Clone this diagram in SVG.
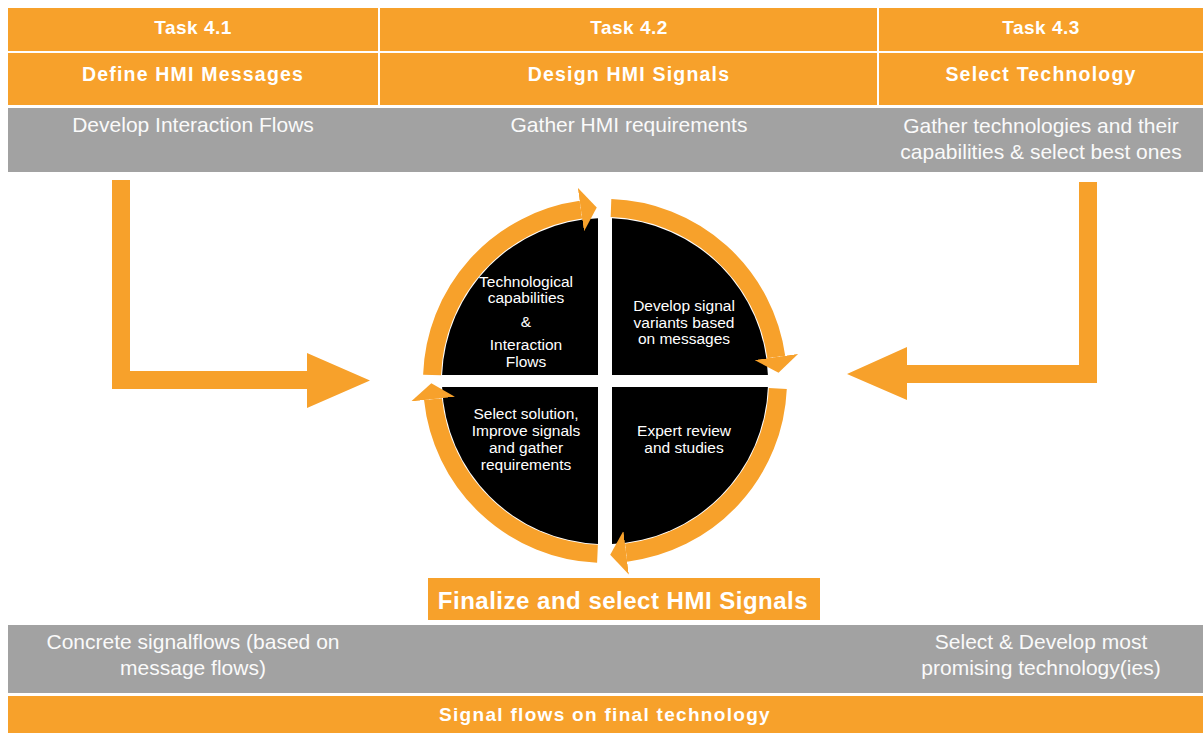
<svg xmlns="http://www.w3.org/2000/svg" width="1203" height="733" viewBox="0 0 1203 733">
  <style>
    .orange { fill: #F7A12B; }
    .gray { fill: #A2A2A2; }
    .black { fill: #000000; }
    .sep { stroke: #FFFFFF; stroke-width: 2; }
    .t-task { font-family: "Liberation Sans", Arial, sans-serif; font-weight: bold; font-size: 19px; fill: #FFFFFF; text-anchor: middle; letter-spacing: 0.5px; }
    .t-title { font-family: "Liberation Sans", Arial, sans-serif; font-weight: bold; font-size: 19.5px; fill: #FFFFFF; text-anchor: middle; letter-spacing: 1.2px; }
    .t-band { font-family: "Liberation Sans", Arial, sans-serif; font-size: 21px; fill: #FAFAFA; text-anchor: middle; }
    .t-quad { font-family: "Liberation Sans", Arial, sans-serif; font-size: 15.5px; fill: #FFFFFF; text-anchor: middle; }
    .t-final { font-family: "Liberation Sans", Arial, sans-serif; font-weight: bold; font-size: 24px; fill: #FFFFFF; text-anchor: middle; letter-spacing: 0.5px; }
    .t-foot { font-family: "Liberation Sans", Arial, sans-serif; font-weight: bold; font-size: 19px; fill: #FFFFFF; text-anchor: middle; letter-spacing: 1.3px; }
    .ring { fill: none; stroke: #F7A12B; stroke-width: 18; stroke-linecap: butt; }
  </style>
  <defs>
    <marker id="ringHead" markerUnits="userSpaceOnUse" markerWidth="20" markerHeight="44" refX="0" refY="22" orient="auto">
      <path d="M0,0 L16,22 L0,44 Z" fill="#F7A12B"/>
    </marker>
  </defs>

  <rect x="0" y="0" width="1203" height="733" fill="#FFFFFF"/>

  <!-- Task header cells -->
  <g id="task-4-1">
    <rect class="orange" x="8" y="8" width="371" height="43"/>
    <rect class="orange" x="8" y="53" width="371" height="52"/>
    <text class="t-task" x="193" y="34">Task 4.1</text>
    <text class="t-title" x="193" y="81">Define HMI Messages</text>
  </g>
  <g id="task-4-2">
    <rect class="orange" x="380" y="8" width="498" height="43"/>
    <rect class="orange" x="380" y="53" width="498" height="52"/>
    <text class="t-task" x="629" y="34">Task 4.2</text>
    <text class="t-title" x="629" y="81">Design HMI Signals</text>
  </g>
  <g id="task-4-3">
    <rect class="orange" x="879" y="8" width="324" height="43"/>
    <rect class="orange" x="879" y="53" width="324" height="52"/>
    <text class="t-task" x="1041" y="34">Task 4.3</text>
    <text class="t-title" x="1041" y="81">Select Technology</text>
  </g>

  <!-- Activity band -->
  <g id="activities">
    <rect class="gray" x="8" y="108" width="1195" height="64"/>
    <text class="t-band" x="193" y="132">Develop Interaction Flows</text>
    <text class="t-band" x="629" y="132">Gather HMI requirements</text>
    <text class="t-band" x="1041" y="133">Gather technologies and their</text>
    <text class="t-band" x="1041" y="159">capabilities &amp; select best ones</text>
  </g>

  <!-- Iteration cycle quadrants -->
  <g id="quad-tech">
    <path class="black" d="M598,375 L598,218.2 A163,163 0 0 0 442.1,375 Z"/>
    <text class="t-quad" x="526" y="287">Technological</text>
    <text class="t-quad" x="526" y="303">capabilities</text>
    <text class="t-quad" x="526" y="327">&amp;</text>
    <text class="t-quad" x="526" y="350">Interaction</text>
    <text class="t-quad" x="526" y="367">Flows</text>
  </g>
  <g id="quad-variants">
    <path class="black" d="M612,375 L767.9,375 A163,163 0 0 0 612,218.2 Z"/>
    <text class="t-quad" x="684" y="311">Develop signal</text>
    <text class="t-quad" x="684" y="328">variants based</text>
    <text class="t-quad" x="684" y="344">on messages</text>
  </g>
  <g id="quad-review">
    <path class="black" d="M612,387 L612,543.9 A163,163 0 0 0 767.9,387 Z"/>
    <text class="t-quad" x="684" y="436">Expert review</text>
    <text class="t-quad" x="684" y="453">and studies</text>
  </g>
  <g id="quad-select">
    <path class="black" d="M598,387 L442.1,387 A163,163 0 0 0 598,543.9 Z"/>
    <text class="t-quad" x="526" y="419">Select solution,</text>
    <text class="t-quad" x="526" y="436">Improve signals</text>
    <text class="t-quad" x="526" y="453">and gather</text>
    <text class="t-quad" x="526" y="470">requirements</text>
  </g>

  <!-- Result boxes -->
  <g id="finalize">
    <rect class="orange" x="428" y="578" width="392" height="42"/>
    <text class="t-final" x="623" y="609">Finalize and select HMI Signals</text>
  </g>
  <g id="outcomes">
    <rect class="gray" x="8" y="625" width="1195" height="68"/>
    <text class="t-band" x="193" y="649">Concrete signalflows (based on</text>
    <text class="t-band" x="193" y="675">message flows)</text>
    <text class="t-band" x="1041" y="649">Select &amp; Develop most</text>
    <text class="t-band" x="1041" y="675">promising technology(ies)</text>
  </g>
  <g id="final-technology">
    <rect class="orange" x="8" y="696" width="1195" height="37"/>
    <text class="t-foot" x="605" y="721">Signal flows on final technology</text>
  </g>

  <!-- Connectors -->
  <g id="connectors">
    <!-- cycle arcs, centre (605,381), radius 173 -->
    <path class="ring" marker-end="url(#ringHead)" d="M432.1,375 A173,173 0 0 1 580.9,209.7"/>
    <path class="ring" marker-end="url(#ringHead)" d="M611,208.1 A173,173 0 0 1 776.3,357"/>
    <path class="ring" marker-end="url(#ringHead)" d="M777.8,388.5 A173,173 0 0 1 626.1,552.7"/>
    <path class="ring" marker-end="url(#ringHead)" d="M597.5,553.8 A173,173 0 0 1 433,399.1"/>
    <!-- side feeds into the cycle -->
    <path class="orange" d="M112,180 H130 V371 H307 V353 L370,380.5 L307,408 V389 H112 Z"/>
    <path class="orange" d="M1097,182 H1079 V365 H907 V347 L847,374 L907,400 V383 H1097 Z"/>
  </g>

  <!-- column separators -->
  <line class="sep" x1="379" y1="8" x2="379" y2="105"/>
  <line class="sep" x1="878" y1="8" x2="878" y2="105"/>
</svg>
